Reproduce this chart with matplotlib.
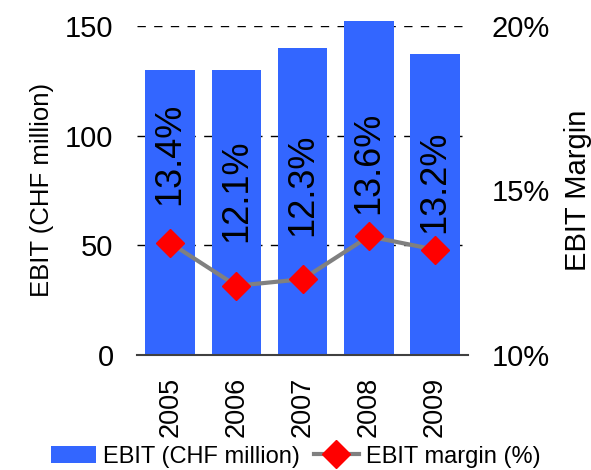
import numpy as np
import matplotlib.pyplot as plt

plt.rcParams['font.family'] = ['Liberation Sans', 'DejaVu Sans']

# data
years = ['2005', '2006', '2007', '2008', '2009']
ebit = [130, 130, 140, 152, 137]          # CHF million
margin = [13.4, 12.1, 12.3, 13.6, 13.2]   # %
label_shift = [38, 44, 43, 22, 17]        # px gap between marker and label

fig = plt.figure(figsize=(5.91, 4.70), dpi=100)
ax = fig.add_axes([0.232, 0.245, 0.560, 0.700])
x = np.arange(len(years))

# bars
ax.bar(x, ebit, width=0.75, color='#3366FF', zorder=2, clip_on=False,
       label='EBIT (CHF million)')
ax.set_xlim(-0.5, 4.5)
ax.set_ylim(0, 150)
ax.set_yticks([0, 50, 100, 150])
ax.yaxis.grid(True, linestyle=(0, (6, 6)), color='black', linewidth=1)
ax.set_axisbelow(True)
for s in ['top', 'left', 'right']:
    ax.spines[s].set_visible(False)
ax.spines['bottom'].set_color('#404040')
ax.spines['bottom'].set_linewidth(1.5)
ax.spines['bottom'].set_zorder(3)
ax.set_xticks(x)
ax.set_xticklabels(years, rotation=90, fontsize=19.5)
ax.tick_params(axis='both', length=0, pad=17)
ax.tick_params(axis='x', pad=16)
ax.tick_params(axis='y', labelsize=21)
ax.set_ylabel('EBIT (CHF million)', fontsize=18.5, labelpad=8)

# margin line on the right axis
ax2 = ax.twinx()
ax2.plot(x, margin, color='#808080', linewidth=3, marker='D', markersize=14,
         markerfacecolor='red', markeredgecolor='red', label='EBIT margin (%)')
ax2.set_ylim(10, 20)
ax2.set_yticks([10, 15, 20])
ax2.set_yticklabels(['10%', '15%', '20%'])
ax2.tick_params(axis='y', length=0, pad=17, labelsize=21)
for s in ['top', 'left', 'right', 'bottom']:
    ax2.spines[s].set_visible(False)
ax2.set_ylabel('EBIT Margin', fontsize=21, labelpad=10)

for xi, m, d in zip(x, margin, label_shift):
    ax2.annotate(f'{m:.1f}%', (xi, m), xytext=(0, d * 0.72), textcoords='offset points',
                 rotation=90, ha='center', va='bottom', fontsize=26)

h1, l1 = ax.get_legend_handles_labels()
h2, l2 = ax2.get_legend_handles_labels()
fig.legend(h1 + h2, l1 + l2, loc='lower center', bbox_to_anchor=(0.5, -0.04), ncol=2,
           frameon=False, fontsize=17, handlelength=1.9, handletextpad=0.3,
           columnspacing=0.6)

fig.savefig('out.png', dpi=100)
